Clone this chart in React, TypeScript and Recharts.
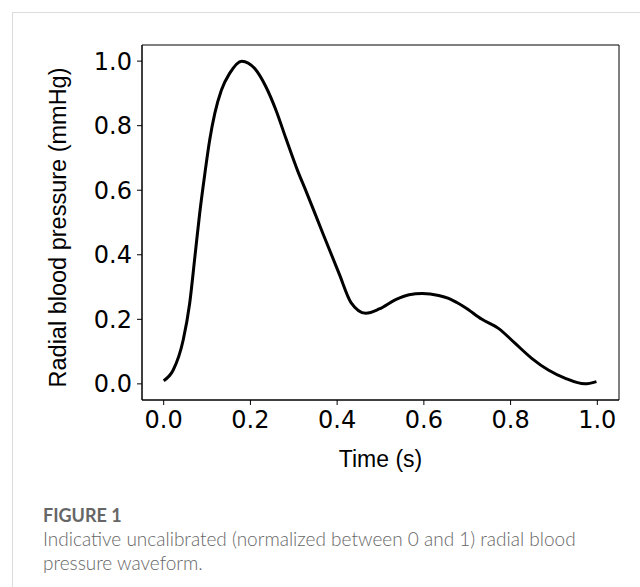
import React from "react";
import { LineChart, Line, XAxis, YAxis, Label, ReferenceArea } from "recharts";

const times = [0.0, 0.022, 0.045, 0.06, 0.072, 0.083, 0.095, 0.106, 0.118, 0.133, 0.152, 0.18, 0.21, 0.236, 0.259, 0.282, 0.309, 0.328, 0.366, 0.405, 0.432, 0.466, 0.497, 0.535, 0.566, 0.596, 0.634, 0.657, 0.676, 0.696, 0.734, 0.772, 0.81, 0.848, 0.887, 0.925, 0.971, 0.998];
const pressure = [0.01, 0.043, 0.136, 0.25, 0.394, 0.528, 0.652, 0.755, 0.839, 0.91, 0.962, 1.0, 0.977, 0.92, 0.848, 0.76, 0.66, 0.598, 0.47, 0.34, 0.252, 0.219, 0.232, 0.261, 0.276, 0.28, 0.274, 0.265, 0.252, 0.236, 0.2, 0.172, 0.126, 0.08, 0.043, 0.018, 0.0, 0.007];
const xTicks = [0, 0.2, 0.4, 0.6, 0.8, 1.0];
const yTicks = [0, 0.2, 0.4, 0.6, 0.8, 1.0];
const xLabel = "Time (s)";
const yLabel = "Radial blood pressure (mmHg)";
const captionTitle = "FIGURE 1";
const captionLines = [
  "Indicative uncalibrated (normalized between 0 and 1) radial blood",
  "pressure waveform.",
];

const data = times.map((t, i) => ({ t, p: pressure[i] }));

const tickStyle = { fontFamily: "DejaVu Sans", fontSize: 24, fill: "#000" };

export default function App() {
  return (
    <div style={{ position: "absolute", left: 0, top: 0, width: 640, height: 587, background: "#fff", overflow: "hidden" }}>
      <div style={{ position: "absolute", left: 12, top: 12, width: 700, height: 700, borderLeft: "1px solid #dcdcdc", borderTop: "1px solid #dcdcdc" }} />
      <div style={{ position: "absolute", left: 0, top: 0 }}>
        <LineChart width={640} height={480} data={data} margin={{ top: 45, right: 21, left: 0, bottom: 0 }}>
          <XAxis
            xAxisId="b"
            dataKey="t"
            type="number"
            domain={[-0.05, 1.05]}
            ticks={xTicks}
            tickFormatter={(v: number) => v.toFixed(1)}
            height={80}
            tick={tickStyle}
            tickSize={5}
            tickMargin={6}
            stroke="#000"
            allowDataOverflow
          >
            <Label value={xLabel} position="insideBottom" offset={13} style={{ fontFamily: "Liberation Sans", fontSize: 23, fill: "#000" }} />
          </XAxis>
          <YAxis
            yAxisId="l"
            type="number"
            domain={[-0.05, 1.05]}
            ticks={yTicks}
            tickFormatter={(v: number) => v.toFixed(1)}
            width={142}
            tick={tickStyle}
            tickSize={5}
            tickMargin={5}
            stroke="#000"
            allowDataOverflow
          >
            <Label value={yLabel} angle={-90} position="insideLeft" offset={58} dy={5} style={{ textAnchor: "middle", fontFamily: "Liberation Sans", fontSize: 23.5, fill: "#000" }} />
          </YAxis>
          <ReferenceArea
            xAxisId="b"
            yAxisId="l"
            x1={-0.05}
            x2={1.05}
            y1={-0.05}
            y2={1.05}
            fill="none"
            fillOpacity={0}
            stroke="#000"
            strokeWidth={1}
            ifOverflow="visible"
          />
          <Line
            xAxisId="b"
            yAxisId="l"
            dataKey="p"
            type="monotone"
            stroke="#000"
            strokeWidth={3}
            dot={false}
            isAnimationActive={false}
          />
        </LineChart>
      </div>
      <div style={{ position: "absolute", left: 43, top: 503, fontFamily: "Lato, 'Open Sans'", color: "#5f5f5f" }}>
        <div style={{ fontSize: 18, fontWeight: 700, lineHeight: "24px", color: "#666" }}>{captionTitle}</div>
        {captionLines.map((l, i) => (
          <div key={i} style={{ fontSize: 19, lineHeight: "24px", fontWeight: 300, color: "#666" }}>{l}</div>
        ))}
      </div>
    </div>
  );
}
